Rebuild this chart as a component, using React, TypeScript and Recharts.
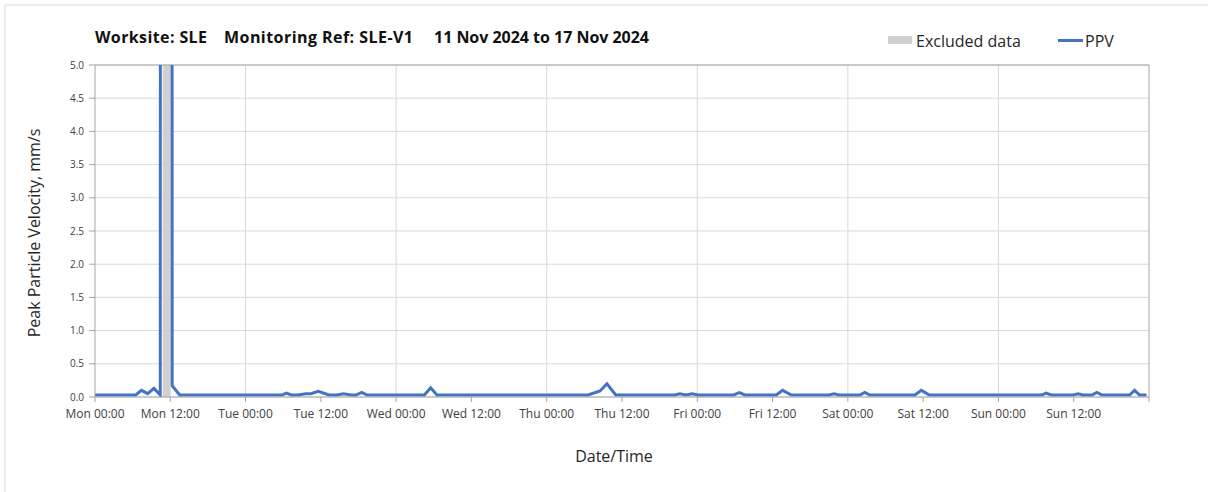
import React from 'react';
import { LineChart, Line, XAxis, YAxis, CartesianGrid, ReferenceArea, ReferenceLine } from 'recharts';

// Hours since Mon 11 Nov 2024 00:00
const hours = [
  0, 6.5, 7.4, 8.4, 9.4, 10.4, 10.65, 11.4, 12.15, 12.3, 13.5,
  29.8, 30.5, 31.3, 32.3, 33.6, 34.4, 35.6, 37.3, 38.6, 39.6, 40.8, 41.6, 42.5, 43.4,
  52.5, 53.5, 54.5,
  78.6, 80.5, 81.6, 83.0,
  92.4, 93.2, 94.2, 95.2, 96.1,
  101.8, 102.7, 103.6,
  108.6, 109.6, 111.0,
  117.0, 117.8, 118.6,
  121.9, 122.7, 123.5,
  130.7, 131.7, 133.0,
  150.9, 151.6, 152.4,
  155.9, 156.7, 157.5,
  158.9, 159.7, 160.5,
  164.9, 165.7, 166.5, 167.6,
];
// Peak Particle Velocity, mm/s (null = excluded)
const ppv: (number | null)[] = [
  0.03, 0.03, 0.1, 0.05, 0.13, 0.03, 60, null, 60, 0.17, 0.03,
  0.03, 0.06, 0.03, 0.03, 0.05, 0.05, 0.085, 0.03, 0.03, 0.05, 0.03, 0.03, 0.07, 0.03,
  0.03, 0.14, 0.03,
  0.03, 0.09, 0.2, 0.03,
  0.03, 0.05, 0.03, 0.05, 0.03,
  0.03, 0.065, 0.03,
  0.03, 0.1, 0.03,
  0.03, 0.05, 0.03,
  0.03, 0.07, 0.03,
  0.03, 0.1, 0.03,
  0.03, 0.06, 0.03,
  0.03, 0.05, 0.03,
  0.03, 0.07, 0.03,
  0.03, 0.1, 0.03, 0.03,
];

const xTickHours = [0, 12, 24, 36, 48, 60, 72, 84, 96, 108, 120, 132, 144, 156, 168];
const xTickLabels = [
  'Mon 00:00', 'Mon 12:00', 'Tue 00:00', 'Tue 12:00', 'Wed 00:00', 'Wed 12:00',
  'Thu 00:00', 'Thu 12:00', 'Fri 00:00', 'Fri 12:00', 'Sat 00:00', 'Sat 12:00',
  'Sun 00:00', 'Sun 12:00', '',
];
const yTicks = [0, 0.5, 1, 1.5, 2, 2.5, 3, 3.5, 4, 4.5, 5];
const dayBoundaries = [24, 48, 72, 96, 120, 144];
const excludedStart = 10.8;
const excludedEnd = 12.05;

const titleParts = ['Worksite: SLE', 'Monitoring Ref: SLE-V1', '11 Nov 2024 to 17 Nov 2024'];

const data = hours.map((h, i) => ({ h, ppv: ppv[i] }));

const FONT = '"Open Sans", sans-serif';

export default function App() {
  return (
    <div style={{ position: 'absolute', left: 0, top: 0, width: 1208, height: 492, background: '#fff' }}>
      <LineChart width={1208} height={492} data={data} margin={{ top: 65, right: 59, bottom: 65, left: 0 }}>
        <CartesianGrid vertical={false} stroke="#d9d9d9" horizontalValues={yTicks} />
        {dayBoundaries.map((d) => (
          <ReferenceLine key={d} x={d} stroke="#d9d9d9" />
        ))}
        <ReferenceArea x1={excludedStart} x2={excludedEnd} y1={0} y2={5} fill="#d0d0d0" fillOpacity={1} stroke="none" />
        <ReferenceLine y={5} stroke="#a6a6a6" />
        <ReferenceLine x={168} stroke="#a6a6a6" />
        <XAxis
          dataKey="h"
          type="number"
          domain={[0, 168]}
          ticks={xTickHours}
          interval={0}
          tickFormatter={(v: number) => xTickLabels[xTickHours.indexOf(v)] ?? ''}
          height={30}
          tickSize={5}
          tickMargin={7}
          stroke="#a6a6a6"
          tick={{ fontSize: 12, fill: '#404040', fontFamily: FONT }}
        />
        <YAxis
          type="number"
          domain={[0, 5]}
          ticks={yTicks}
          allowDataOverflow
          width={95}
          interval={0}
          tickFormatter={(v: number) => v.toFixed(1)}
          tickSize={6}
          tickMargin={5}
          stroke="#a6a6a6"
          tick={{ fontSize: 10, fill: '#404040', fontFamily: FONT }}
        />
        <Line
          type="linear"
          dataKey="ppv"
          stroke="#4472c4"
          strokeWidth={3}
          dot={false}
          activeDot={false}
          connectNulls={false}
          isAnimationActive={false}
        />
      </LineChart>
      <svg width={1208} height={492} style={{ position: 'absolute', left: 0, top: 0, pointerEvents: 'none' }}>
        <path d="M5,492 L5,5 L1208,5" fill="none" stroke="#d9d9d9" strokeWidth={1} />
        <text x={95} y={43} fontFamily={FONT} fontWeight={700} fontSize={16} fill="#111" textLength={112} lengthAdjust="spacing">{titleParts[0]}</text>
        <text x={224} y={43} fontFamily={FONT} fontWeight={700} fontSize={16} fill="#111" textLength={189} lengthAdjust="spacing">{titleParts[1]}</text>
        <text x={434} y={43} fontFamily={FONT} fontWeight={700} fontSize={16} fill="#111" textLength={215} lengthAdjust="spacing">{titleParts[2]}</text>
        <rect x={888} y={36} width={24} height={8} fill="#d0d0d0" />
        <text x={916} y={46.5} fontFamily={FONT} fontSize={16} fill="#262626">Excluded data</text>
        <line x1={1058} x2={1083} y1={40.5} y2={40.5} stroke="#4472c4" strokeWidth={3} />
        <text x={1085} y={46.5} fontFamily={FONT} fontSize={16} fill="#262626">PPV</text>
        <text x={614} y={462} textAnchor="middle" fontFamily={FONT} fontSize={16} fill="#262626">Date/Time</text>
        <text x={40} y={233} textAnchor="middle" transform="rotate(-90 40 233)" fontFamily={FONT} fontSize={16} fill="#262626">Peak Particle Velocity, mm/s</text>
      </svg>
    </div>
  );
}
